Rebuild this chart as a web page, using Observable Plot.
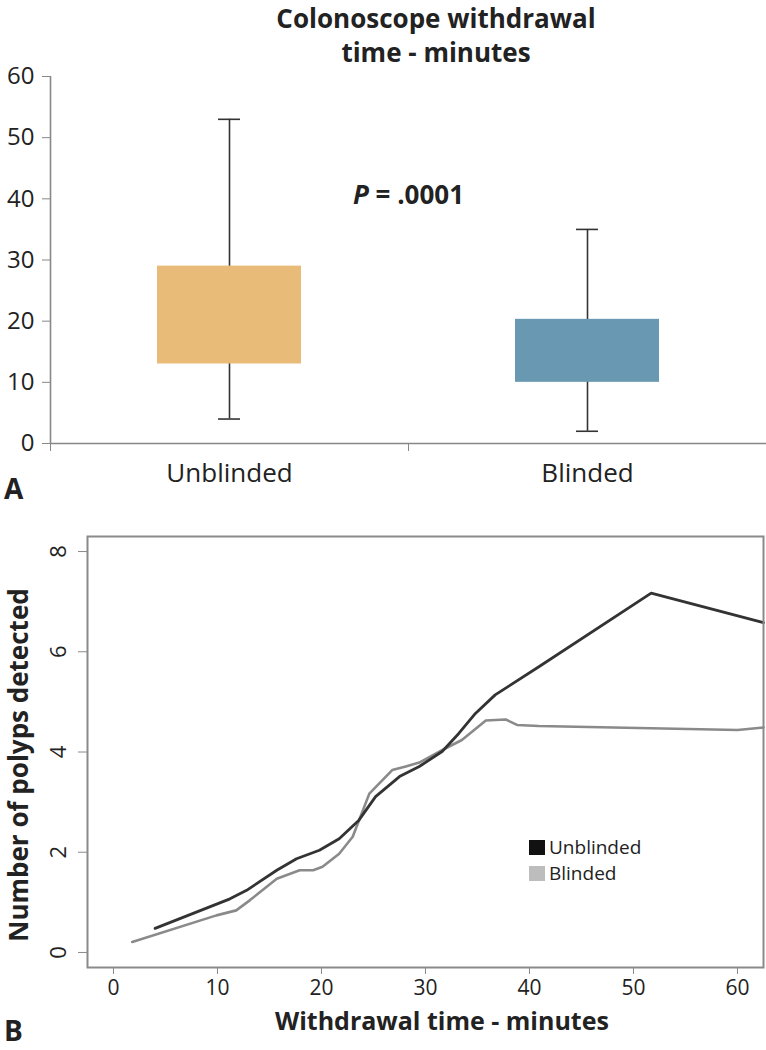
<!DOCTYPE html>
<html>
<head>
<meta charset="utf-8">
<script src="https://cdn.jsdelivr.net/npm/d3@7"></script>
<script src="https://cdn.jsdelivr.net/npm/@observablehq/plot@0.6"></script>
<style>
  html, body { margin: 0; padding: 0; background: #fff; }
  #wrap { position: relative; width: 766px; height: 1050px; overflow: hidden; font-family: "Open Sans", sans-serif; color: #222; }
  .abs { position: absolute; }
  #title { top: 1px; left: 136px; width: 600px; text-align: center; font-weight: 700; font-size: 26px; line-height: 34px; }
  .panel-letter { font-weight: 700; font-size: 28px; line-height: 28px; }
  #ytitleB { font-weight: 700; font-size: 26px; line-height: 26px; white-space: nowrap; transform-origin: center center; }
  #xtitleB { font-weight: 700; font-size: 25px; line-height: 25px; white-space: nowrap; }
  #legendB { font-size: 19px; }
  #legendB .row { display: flex; align-items: center; height: 26px; }
  #legendB .sw { width: 16px; height: 15px; margin-right: 4px; flex: none; }
  #legendB .lab { display: inline-block; height: 26px; line-height: 26px; }
</style>
</head>
<body>
<div id="wrap">
  <div id="chartA" class="abs" style="top:0;left:0"></div>
  <div id="chartB" class="abs" style="top:500px;left:0"></div>
  <div id="title" class="abs">Colonoscope withdrawal<br>time - minutes</div>
  <div class="abs panel-letter" style="left:4px;top:474px">A</div>
  <div class="abs panel-letter" style="left:4px;top:1016px">B</div>
  <div id="ytitleB" class="abs"></div>
  <div id="xtitleB" class="abs"></div>
  <div id="legendB" class="abs" style="left:529px;top:834px"></div>
</div>
<script>
// ---------- Panel A data ----------
const groups = ["Unblinded", "Blinded"];
const whiskerLow = [4, 2];
const boxLow = [13, 10];
const boxHigh = [29, 20.3];
const whiskerHigh = [53, 35];
const boxColors = ["#E9BB78", "#6898B2"];
const yTicksA = [0, 10, 20, 30, 40, 50, 60];
const pValueText = "P = .0001";
const pValueY = 40.5;

// ---------- Panel B data ----------
const seriesNames = ["Unblinded", "Blinded"];
const seriesColors = ["#333333", "#8a8a8a"];
const legendColors = ["#111111", "#bdbdbd"];
const timeUnblinded = [4, 11.2, 12.8, 15.7, 17.6, 19.8, 21.7, 23.6, 25.2, 27.5, 29.4, 31.6, 33.2, 34.8, 36.7, 40.9, 51.7, 62.5];
const polypsUnblinded = [0.48, 1.07, 1.24, 1.64, 1.87, 2.04, 2.27, 2.64, 3.11, 3.51, 3.71, 4.01, 4.37, 4.77, 5.14, 5.70, 7.17, 6.58];
const timeBlinded = [1.8, 9.9, 11.8, 13.1, 15.7, 17.9, 19.2, 20.1, 21.7, 23.0, 24.6, 26.8, 28.1, 29.4, 31.9, 33.5, 35.8, 37.7, 38.8, 40.9, 60.0, 62.5];
const polypsBlinded = [0.21, 0.74, 0.84, 1.04, 1.47, 1.64, 1.64, 1.71, 1.97, 2.31, 3.17, 3.64, 3.71, 3.79, 4.07, 4.24, 4.63, 4.65, 4.54, 4.52, 4.44, 4.49];
const xTicksB = [0, 10, 20, 30, 40, 50, 60];
const yTicksB = [0, 2, 4, 6, 8];
const xTitleB = "Withdrawal time - minutes";
const yTitleB = "Number of polyps detected";

// ---------- Panel A ----------
const boxes = groups.map((g, i) => ({
  g, i, lo: whiskerLow[i], q1: boxLow[i], q3: boxHigh[i], hi: whiskerHigh[i], color: boxColors[i]
}));
const bandEdges = d3.range(groups.length + 1);
const bandCenters = groups.map((g, i) => i + 0.5);

const chartA = Plot.plot({
  width: 766,
  height: 500,
  marginLeft: 50,
  marginRight: 0,
  marginTop: 76,
  marginBottom: 57,
  style: {fontFamily: "Open Sans, sans-serif", fontSize: "24px", color: "#222", background: "transparent"},
  x: {domain: [0, groups.length], label: null},
  y: {domain: [0, 60], label: null},
  marks: [
    Plot.ruleX(boxes, {x: d => d.i + 0.5, y1: "lo", y2: "hi", stroke: "#333", strokeWidth: 1.6}),
    Plot.ruleY(boxes, {x1: d => d.i, x2: d => d.i + 1, y: "lo", insetLeft: 168, insetRight: 168, stroke: "#333", strokeWidth: 1.6}),
    Plot.ruleY(boxes, {x1: d => d.i, x2: d => d.i + 1, y: "hi", insetLeft: 168, insetRight: 168, stroke: "#333", strokeWidth: 1.6}),
    Plot.rectY(boxes, {x1: d => d.i, x2: d => d.i + 1, y1: "q1", y2: "q3", fill: "color", insetLeft: 107, insetRight: 107}),
    Plot.ruleX([0], {stroke: "#888", strokeWidth: 1.6}),
    Plot.ruleY([0], {stroke: "#888", strokeWidth: 1.6}),
    Plot.axisY({ticks: yTicksA, tickSize: 8, tickPadding: 8, stroke: "#888", fill: "#222", label: null}),
    Plot.axisX({ticks: bandEdges, tickSize: 8, stroke: "#888", fill: "none", label: null}),
    Plot.axisX({ticks: bandCenters, tickSize: 0, tickPadding: 20, fill: "#222", fontSize: 26, tickFormat: d => groups[Math.floor(d)], label: null}),
    Plot.text([pValueText], {x: groups.length / 2, y: pValueY, text: d => d, fontSize: 26, fontWeight: "bold", fill: "#222"})
  ]
});
// italicize the P
d3.select(chartA).selectAll("text").filter(function() { return this.textContent === pValueText; })
  .each(function() {
    const t = d3.select(this);
    t.text(null);
    t.append("tspan").attr("font-style", "italic").text("P");
    t.append("tspan").text(pValueText.slice(1));
  });
document.getElementById("chartA").appendChild(chartA);

// ---------- Panel B ----------
const unblinded = timeUnblinded.map((t, i) => ({t, n: polypsUnblinded[i]}));
const blinded = timeBlinded.map((t, i) => ({t, n: polypsBlinded[i]}));

const chartB = Plot.plot({
  width: 766,
  height: 550,
  marginLeft: 87,
  marginRight: 3,
  marginTop: 36,
  marginBottom: 83,
  style: {fontFamily: "Open Sans, sans-serif", fontSize: "22px", color: "#222", background: "transparent"},
  x: {domain: [-2.5, 62.5], label: null},
  y: {domain: [-0.3, 8.3], label: null},
  marks: [
    Plot.line(blinded, {x: "t", y: "n", stroke: seriesColors[1], strokeWidth: 2.6}),
    Plot.line(unblinded, {x: "t", y: "n", stroke: seriesColors[0], strokeWidth: 2.8}),
    Plot.frame({stroke: "#8a8a8a", strokeWidth: 2}),
    Plot.axisX({ticks: xTicksB, tickSize: 7, tickPadding: 6, fontSize: 21, stroke: "#8a8a8a", fill: "#222", label: null}),
    Plot.axisY({ticks: yTicksB, tickSize: 9, tickPadding: 13, tickRotate: -90, stroke: "#8a8a8a", fill: "#222", label: null})
  ]
});
document.getElementById("chartB").appendChild(chartB);

// titles & legend for panel B
const yt = document.getElementById("ytitleB");
yt.textContent = yTitleB;
const ytw = yt.offsetWidth, yth = yt.offsetHeight;
yt.style.left = (17 - ytw / 2) + "px";
yt.style.top = (765 - yth / 2) + "px";
yt.style.transform = "rotate(-90deg)";

const xt = document.getElementById("xtitleB");
xt.textContent = xTitleB;
xt.style.left = (442 - xt.offsetWidth / 2) + "px";
xt.style.top = "1008px";

const lg = d3.select("#legendB");
seriesNames.forEach((name, i) => {
  const row = lg.append("div").attr("class", "row");
  row.append("div").attr("class", "sw").style("background", legendColors[i]);
  row.append("span").attr("class", "lab").text(name);
});
</script>
</body>
</html>
